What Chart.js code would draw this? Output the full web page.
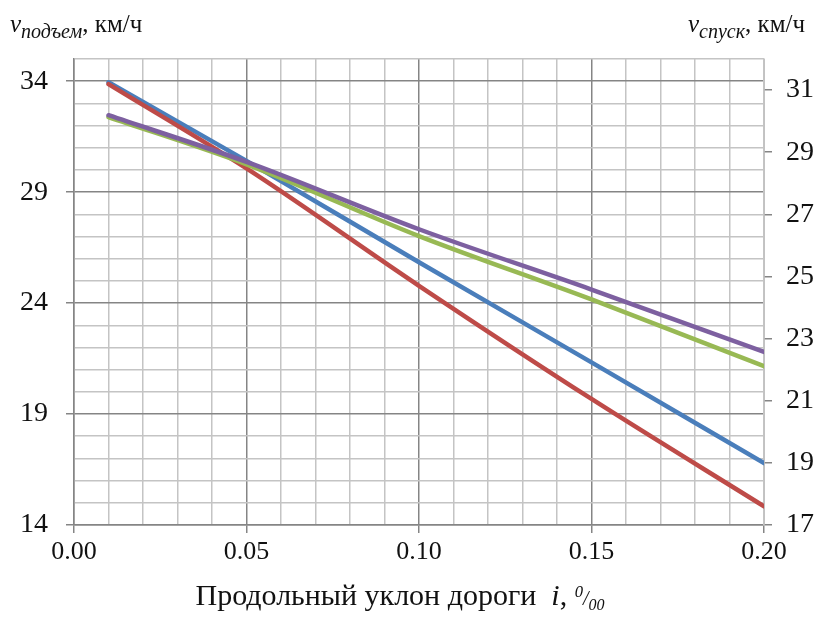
<!DOCTYPE html>
<html>
<head>
<meta charset="utf-8">
<script src="https://cdn.jsdelivr.net/npm/chart.js@4.4.0/dist/chart.umd.min.js"></script>
<style>
    body { margin: 0; background: #fff; }
    #wrap { position: relative; width: 821px; height: 628px; }
    .lab { position: absolute; font-family: "Liberation Serif", "Times New Roman", serif; color: #111; white-space: nowrap; }
    .lab sub { font-size: 0.8em; }
</style>
</head>
<body>
<div id="wrap">
    <canvas id="speedChart" width="821" height="628"></canvas>
    <div class="lab" style="left:10px; top:10px; font-size:25px;"><i>v</i><sub><i>подъем</i></sub>, км/ч</div>
    <div class="lab" style="right:16px; top:10px; font-size:25px;"><i>v</i><sub><i>спуск</i></sub>, км/ч</div>
    <div class="lab" style="left:0; width:800px; text-align:center; top:578px; font-size:30px;">Продольный уклон дороги&nbsp; <i>i</i>, <i style="font-size:20px"><sup>0</sup>/<sub>00</sub></i></div>
</div>
<script>
// slope values, ‰
const slopes = [0.01, 0.05, 0.10, 0.15, 0.20];

// left axis, km/h
const vBlue = [33.95, 30.41, 25.84, 21.33, 16.79];
const vRed = [33.87, 30.07, 24.78, 19.68, 14.84];

// right axis, km/h
const vGreen = [30.13, 28.61, 26.30, 24.26, 22.11];
const vPurple = [30.19, 28.69, 26.52, 24.58, 22.57];

const xTicks = [0, 0.05, 0.10, 0.15, 0.20];
const leftTicks = [14, 19, 24, 29, 34];
const rightTicks = [17, 19, 21, 23, 25, 27, 29, 31];

const FONT = '"Liberation Serif", "Times New Roman", serif';

function toPoints(values) {
    return values.map((v, i) => ({ x: slopes[i], y: v }));
}

function isMajor(list, value) {
    return list.some(t => Math.abs(t - value) < 1e-6);
}

function makeLine(values, color, axis, order) {
    return {
        data: toPoints(values),
        yAxisID: axis,
        borderColor: color,
        borderWidth: 4.5,
        borderCapStyle: 'round',
        pointRadius: 0,
        cubicInterpolationMode: 'monotone',
        fill: false,
        order: order
    };
}

new Chart(document.getElementById('speedChart').getContext('2d'), {
    type: 'line',
    data: {
        datasets: [
            makeLine(vBlue, '#4a7ebb', 'yL', 4),
            makeLine(vRed, '#be4b48', 'yL', 3),
            makeLine(vGreen, '#98b954', 'yR', 2),
            makeLine(vPurple, '#7d60a0', 'yR', 1)
        ]
    },
    options: {
        responsive: false,
        animation: false,
        layout: { padding: { top: 59, left: 0, right: 0, bottom: 0 } },
        plugins: { legend: { display: false }, tooltip: { enabled: false } },
        scales: {
            x: {
                type: 'linear',
                min: 0,
                max: 0.2,
                afterBuildTicks: scale => {
                    scale.ticks = [];
                    for (let i = 0; i <= 20; i++) scale.ticks.push({ value: i / 100 });
                },
                afterFit: scale => { scale.height = 103; },
                ticks: {
                    autoSkip: false,
                    maxRotation: 0,
                    padding: 4,
                    color: '#111',
                    font: { family: FONT, size: 26 },
                    callback: v => isMajor(xTicks, v) ? v.toFixed(2) : ''
                },
                grid: {
                    color: ctx => isMajor(xTicks, ctx.tick.value) ? '#858585' : '#c4c4c4',
                    lineWidth: 1.5,
                    tickLength: 8,
                    tickColor: ctx => isMajor(xTicks, ctx.tick.value) ? '#858585' : 'rgba(0,0,0,0)'
                },
                border: { color: '#858585', width: 1.5 }
            },
            yL: {
                position: 'left',
                min: 14,
                max: 35,
                afterBuildTicks: scale => {
                    scale.ticks = [];
                    for (let v = 14; v <= 35; v++) scale.ticks.push({ value: v });
                },
                afterFit: scale => { scale.width = 74; },
                ticks: {
                    autoSkip: false,
                    padding: 18,
                    color: '#111',
                    font: { family: FONT, size: 28 },
                    callback: v => isMajor(leftTicks, v) ? String(v) : ''
                },
                grid: {
                    color: ctx => isMajor(leftTicks, ctx.tick.value) ? '#858585' : '#c4c4c4',
                    lineWidth: 1.5,
                    tickLength: 8,
                    tickColor: ctx => isMajor(leftTicks, ctx.tick.value) ? '#858585' : 'rgba(0,0,0,0)'
                },
                border: { color: '#858585', width: 1.5 }
            },
            yR: {
                position: 'right',
                min: 17,
                max: 32,
                afterBuildTicks: scale => {
                    scale.ticks = rightTicks.map(v => ({ value: v }));
                },
                afterFit: scale => { scale.width = 57; },
                ticks: {
                    autoSkip: false,
                    padding: 14,
                    color: '#111',
                    font: { family: FONT, size: 28 },
                    callback: v => String(v)
                },
                grid: {
                    drawOnChartArea: false,
                    tickLength: 8,
                    tickColor: '#858585',
                    lineWidth: 1.5
                },
                border: { color: '#c4c4c4', width: 1.5 }
            }
        }
    }
});
</script>
</body>
</html>
